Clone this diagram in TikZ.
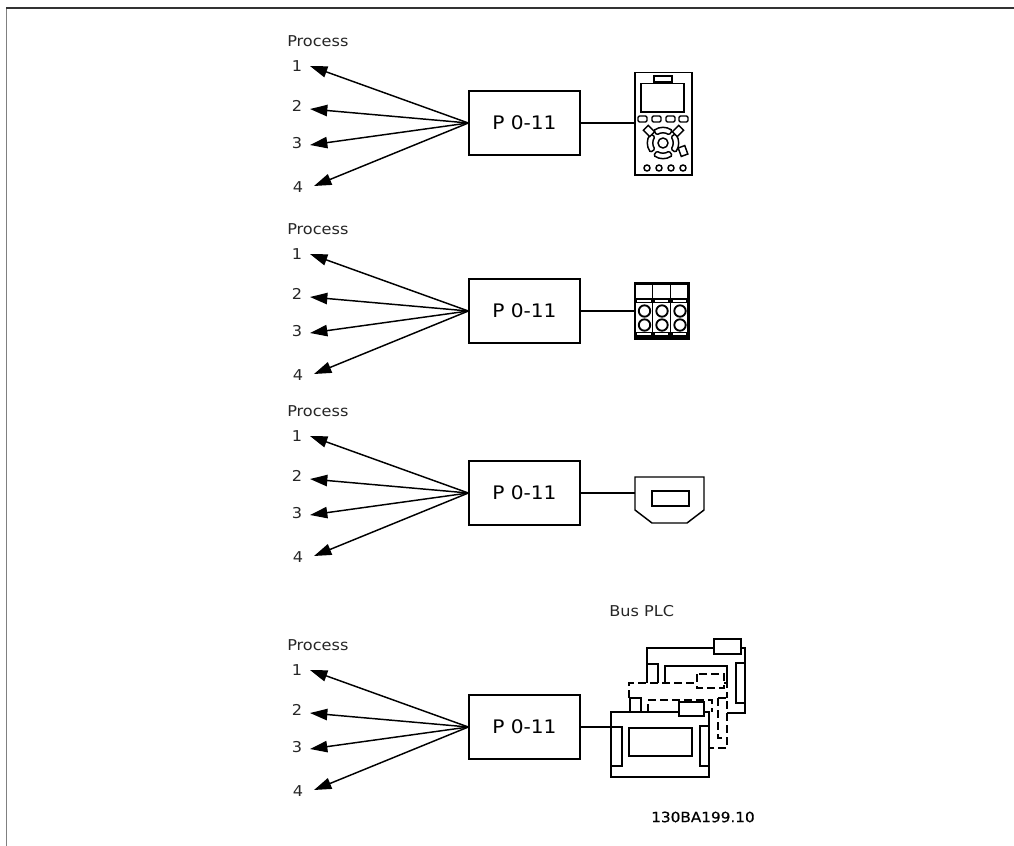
\documentclass[tikz,border=0pt]{standalone}
\usepackage{fontspec}
\setmainfont[FakeStretch=1.08]{DejaVu Sans}
\newfontfamily\codefont[FakeStretch=1.08,FakeBold=0.6]{DejaVu Sans}
\usetikzlibrary{arrows.meta}
\tikzset{
  px/.style={x=0.75pt,y=-0.75pt},
  lab/.style={font=\fontsize{11.2}{13}\selectfont,inner sep=0pt,text=black!85},
  pbox/.style={draw,line width=1pt,minimum width=83.25pt,minimum height=48pt,inner sep=0pt,font=\fontsize{14}{16}\selectfont},
  arr/.style={line width=1.1pt,-{Triangle[length=13pt,width=8.5pt]}},
  ln/.style={line width=1pt},
  thick1/.style={line width=1.1pt},
  dsh/.style={line width=1.1pt,dash pattern=on 6pt off 3pt}
}
\begin{document}
\begin{tikzpicture}[px]
\useasboundingbox (0,0) rectangle (1014,846);
\draw[line width=1.3pt,black!50] (6.5,846) -- (6.5,8);
\draw[line width=1.3pt,black!80] (6,8) -- (1014,8);
\foreach \g/\d in {a/0,b/188,c/370,d/604}{
  \begin{scope}[yshift=-0.75*\d pt]
  \node[lab,anchor=west] (proc\g) at (287,41) {Process};
  \node[lab] (n1\g) at (297,66) {1};
  \node[lab] (n2\g) at (297,106) {2};
  \node[lab] (n3\g) at (297,143) {3};
  \node[lab] (n4\g) at (298,187) {4};
  \coordinate (t1\g) at (310,66);
  \coordinate (t2\g) at (310,109);
  \coordinate (t3\g) at (310,145);
  \coordinate (t4\g) at (314,186);
  \node[pbox] (box\g) at (524.5,123) {P\,\,0-11};
  \foreach \k in {1,2,3,4}{\draw[arr] (box\g.west) -- (t\k\g);}
  \end{scope}
}
% keypad
\draw[thick1] (635,72.5) rectangle (692,175);
\draw[thick1] (654,76) rectangle (672,82);
\draw[thick1] (641,83.5) rectangle (684,112);
\foreach \x in {638,652,666,679}{\draw[thick1,rounded corners=1pt] (\x,116) rectangle ++(9,6);}
\begin{scope}[shift={(663,143)},x=0.75pt,y=0.75pt]
\foreach \a in {0,90,180,270}{
  \draw[thick1,rounded corners=1pt] (\a-37:15.5) arc[start angle=\a-37,end angle=\a+37,radius=15.5] -- (\a+37:10) arc[start angle=\a+37,end angle=\a-37,radius=10] -- cycle;
}
\draw[thick1] (0,0) circle (5);
\end{scope}
\foreach \x/\y/\r in {649/131/45,678/131/-45,683/151/20}{\draw[thick1,fill=white,rotate around={\r:(\x,\y)}] (\x-3.5,\y-4.5) rectangle (\x+3.5,\y+4.5);}
\foreach \x in {647,659,671,683}{\draw[thick1] (\x,168) circle (3);}
\draw[ln] (boxa.east) -- (635,123);
% terminals
\draw[line width=1.6pt] (635,283.5) rectangle (688.5,338.5);
\foreach \x in {652.5,670.5}{\draw[line width=1.4pt] (\x,283.5) -- (\x,338.5);}
\foreach \x in {635,652.5,670.5}{
  \draw[line width=1.3pt,fill=white] (\x+1.5,299) rectangle ++(15,3.5);
  \draw[line width=1.4pt] (\x+9.5,311) circle (5.7);
  \draw[line width=1.4pt] (\x+9.5,325) circle (5.7);
  \draw[line width=1.3pt,fill=white] (\x+1.5,332.5) rectangle ++(15,3.5);
}
\coordinate (termin) at (635,311);
\draw[ln] (boxb.east) -- (termin);
% connector
\draw[thick1] (635,477) -- (704,477) -- (704,510) -- (687,523) -- (652,523) -- (635,510) -- cycle;
\draw[thick1] (652,491) rectangle (689,506);
\coordinate (connin) at (635,493);
\draw[ln] (boxc.east) -- (connin);
% PLC
\node[lab,anchor=west] (bus) at (609,611) {Bus PLC};
\node[anchor=west,inner sep=0pt,font=\codefont\fontsize{10.6}{12}\selectfont,text=black] (code) at (651,817) {130BA199.10};
% back board
\draw[thick1] (647,683) -- (647,648) -- (714,648);
\draw[thick1] (714,639) rectangle (741,654);
\draw[thick1] (741,648) -- (745,648) -- (745,713) -- (727,713);
\draw[thick1] (736,663) rectangle (745,703);
\draw[thick1] (647,664) -- (658,664) -- (658,683);
\draw[thick1] (665,683) -- (665,666) -- (727,666) -- (727,683);
% middle dashed
\draw[dsh] (629,698) -- (629,683) -- (697,683);
\draw[dsh] (697,674) rectangle (724,688);
\draw[dsh] (724,683) -- (727,683) -- (727,698);
\draw[dsh] (718,698) -- (727,698) -- (727,748) -- (710,748);
\draw[dsh] (718,698) -- (718,738) -- (727,738);
\draw[thick1] (630,712) -- (630,698) -- (641,698) -- (641,712);
\draw[dsh] (648,712) -- (648,700) -- (712,700) -- (712,712);
% front board
\draw[thick1] (611,712) -- (709,712) -- (709,777) -- (611,777) -- cycle;
\draw[thick1,fill=white] (679,702) rectangle (704,716);
\draw[thick1,fill=white] (611,727) rectangle (622,766);
\draw[thick1,fill=white] (700,726) rectangle (709,766);
\draw[thick1] (629,728) rectangle (692,756);
\coordinate (plcin) at (611,727);
\draw[ln] (boxd.east) -- (plcin);
\end{tikzpicture}
\end{document}
